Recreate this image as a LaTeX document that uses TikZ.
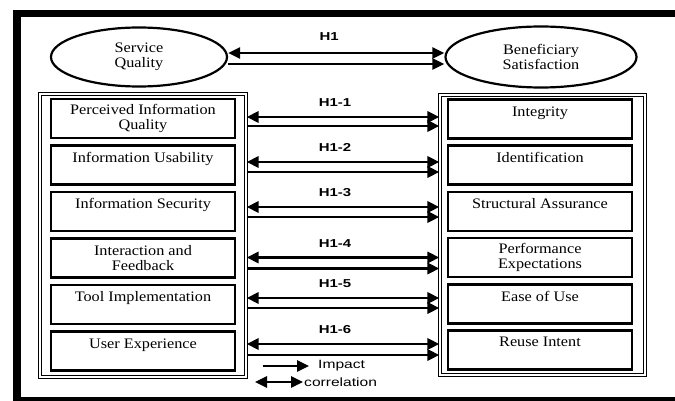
\documentclass[tikz,border=0pt]{standalone}
\usepackage{fontspec}
\setmainfont{Liberation Serif}[FakeStretch=1.12]
\newfontfamily\hypfont{Liberation Sans}[FakeStretch=1.3]
\usetikzlibrary{arrows.meta, shapes.geometric, calc}

\begin{document}
\begin{tikzpicture}[x=1pt, y=-1pt,
construct/.style={ellipse, draw, line width=2.2pt, inner sep=0pt, align=center,
  font=\fontsize{14.5}{15.5}\selectfont},
group/.style={draw, double, line width=1.1pt, double distance=1.4pt, inner sep=0pt},
factor/.style={draw, line width=2.5pt, minimum width=184pt, minimum height=39pt,
  inner sep=0pt, align=center, font=\fontsize{14.5}{15.5}\selectfont},
corr/.style={line width=2.7pt, {Triangle[length=12pt,width=11pt]}-{Triangle[length=12pt,width=11pt]}},
impact/.style={line width=2.7pt, -{Triangle[length=12pt,width=11pt]}},
hyp/.style={font=\hypfont\bfseries\fontsize{11.5}{12}\selectfont, inner sep=0pt},
legend/.style={font=\hypfont\fontsize{12}{13}\selectfont, inner sep=1pt, anchor=west},
]
\useasboundingbox (0,0) rectangle (675,401);

% frame
\fill (13,10) rectangle (675,17.5);
\fill (13,10) rectangle (20.5,401);
\fill (13,397) rectangle (675,401);

% constructs
\node[construct, minimum width=176pt, minimum height=59pt] (sq) at (139,57) {Service\\Quality};
\node[construct, minimum width=191pt, minimum height=61pt] (bs) at (541,57) {Beneficiary\\Satisfaction};

\draw[corr] ([yshift=4pt]sq.east) -- node[hyp, above=11pt, xshift=-7pt] {H1} ([yshift=4pt]bs.west);
\draw[impact] ([yshift=-7pt]sq.east) -- ([yshift=-7pt]bs.west);

% dimensions
\node[group, minimum width=206pt, minimum height=283pt] (lo) at (143,235.5) {};
\node[group, minimum width=205pt, minimum height=280pt] (ro) at (542.5,235) {};

\foreach \i/\txt in {1/Perceived Information\\Quality, 2/Information Usability\\~,
  3/Information Security\\~, 4/Interaction and\\Feedback,
  5/Tool Implementation\\~, 6/User Experience\\~}
  \node[factor] (l\i) at (143,{118.5+46.5*(\i-1)}) {\txt};

\foreach \i/\txt in {1/Integrity\\~, 2/Identification\\~, 3/Structural Assurance\\~,
  4/Performance\\Expectations, 5/Ease of Use\\~, 6/Reuse Intent\\~}
  \node[factor] (r\i) at (540,{119+46.2*(\i-1)}) {\txt};

% hypotheses
\foreach \i/\h/\da/\db in {1/H1-1/-1.5/7.5, 2/H1-2/-3/7, 3/H1-3/-4.5/5.5,
  4/H1-4/-0.5/10.5, 5/H1-5/-6.5/3.5, 6/H1-6/-7/4}
{
\draw[corr] ($(lo.east |- l\i)+(0,\da)$) -- node[hyp, above=9pt, xshift=-8pt] {\h}
  ($(ro.west |- l\i)+(0,\da)$);
\draw[impact] ($(lo.east |- l\i)+(0,\db)$) -- ($(ro.west |- l\i)+(0,\db)$);
}

% legend
\node[legend] (imp) at (317,366) {Impact};
\node[legend] (cor) at (303,382) {correlation};
\coordinate (impstart) at (263,366);
\coordinate (corstart) at (255,382);
\draw[impact, shorten >=8pt] (impstart) -- (imp.west);
\draw[corr] (corstart) -- (cor.west);

\end{tikzpicture}
\end{document}
